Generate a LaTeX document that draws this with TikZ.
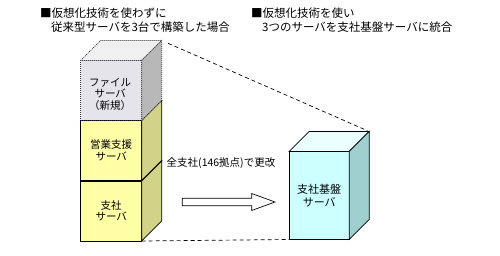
\documentclass[tikz,border=0pt]{standalone}
\usepackage{fontspec}
\setmainfont{Noto Sans CJK JP}
\usetikzlibrary{calc}
\definecolor{yfront}{HTML}{FFFFA8}
\definecolor{yside}{HTML}{D2D288}
\definecolor{ytop}{HTML}{F4F4B0}
\definecolor{gfront}{HTML}{E4E4EA}
\definecolor{gtop}{HTML}{F0F0F0}
\definecolor{gside}{HTML}{B8B8B8}
\definecolor{cfront}{HTML}{CCFFFF}
\definecolor{cside}{HTML}{A0CFCF}
\definecolor{ctop}{HTML}{EAFFFF}
\begin{document}
\begin{tikzpicture}[x=1pt,y=-1pt,
  face/.style={rectangle, inner sep=0pt, outer sep=0pt, align=center, line width=0.7pt},
  solidedge/.style={draw=black, line width=0.7pt},
  dotedge/.style={draw=black!80, line width=0.7pt, dash pattern=on 1pt off 1pt},
  stackbox/.style={face, minimum width=61pt, minimum height=60pt,
    font=\fontsize{10.5}{11.5}\selectfont},
  title/.style={anchor=west, inner sep=0pt, font=\fontsize{11.5}{14}\selectfont},
  guide/.style={draw=black, line width=0.7pt, dash pattern=on 4pt off 3pt},
]
\useasboundingbox (0,0) rectangle (500,256);

\newcommand\cubesides[4]{%
  \draw[#4, fill=#2] (#1.north west) -- ++(20,-20) -- ($(#1.north east)+(20,-20)$) -- (#1.north east) -- cycle;
  \draw[#4, fill=#3] (#1.north east) -- ++(20,-20) -- ($(#1.south east)+(20,-20)$) -- (#1.south east) -- cycle;
}

% titles
\node[title] (t1a) at (40,13.3) {■仮想化技術を使わずに};
\node[title] (t1b) at (51,26.7) {従来型サーバを3台で構築した場合};
\node[title] (t2a) at (251,13.3) {■仮想化技術を使い};
\node[title] (t2b) at (262,26.7) {3つのサーバを支社基盤サーバに統合};

% left stack
\node[stackbox, solidedge, fill=yfront] (branch) at (111.2,211) {支社\\サーバ};
\cubesides{branch}{ytop}{yside}{solidedge}
\node[stackbox, solidedge, fill=yfront] (sales) at (111.2,150.5) {営業支援\\サーバ};
\cubesides{sales}{ytop}{yside}{solidedge}
\node[stackbox, dotedge, fill=gfront] (file) at (111.2,90.5) {};
\cubesides{file}{gtop}{gside}{dotedge}
\node[align=center, inner sep=0pt, font=\fontsize{10.5}{11.5}\selectfont] (filelabel)
  at ($(file.center)+(-1,3.5)$) {ファイル\\サーバ\\（新規）};

% right cube
\node[face, solidedge, fill=cfront, minimum width=60pt, minimum height=88pt,
  font=\fontsize{11}{12.3}\selectfont] (base) at (319.2,195.5) {支社基盤\\サーバ};
\cubesides{base}{ctop}{cside}{solidedge}

% guides
\coordinate (fileback) at ($(file.north east)+(20,-20)$);
\coordinate (baseback) at ($(base.north east)+(20,-20)$);
\draw[guide, shorten <=7pt, shorten >=2pt] (fileback) -- (baseback);
\draw[guide] (branch.south east) -- (base.south west);

% label
\node[anchor=west, inner sep=0pt, font=\fontsize{10.5}{12}\selectfont] (note) at (166.5,163.3) {全支社(146拠点)で更改};

% hollow arrow
\draw[line width=0.7pt, fill=white] (182.3,198.3) -- (251.7,198.3) -- (251.7,193.5) -- (275,202) -- (251.7,210.5) -- (251.7,205.7) -- (182.3,205.7) -- cycle;
\end{tikzpicture}
\end{document}
